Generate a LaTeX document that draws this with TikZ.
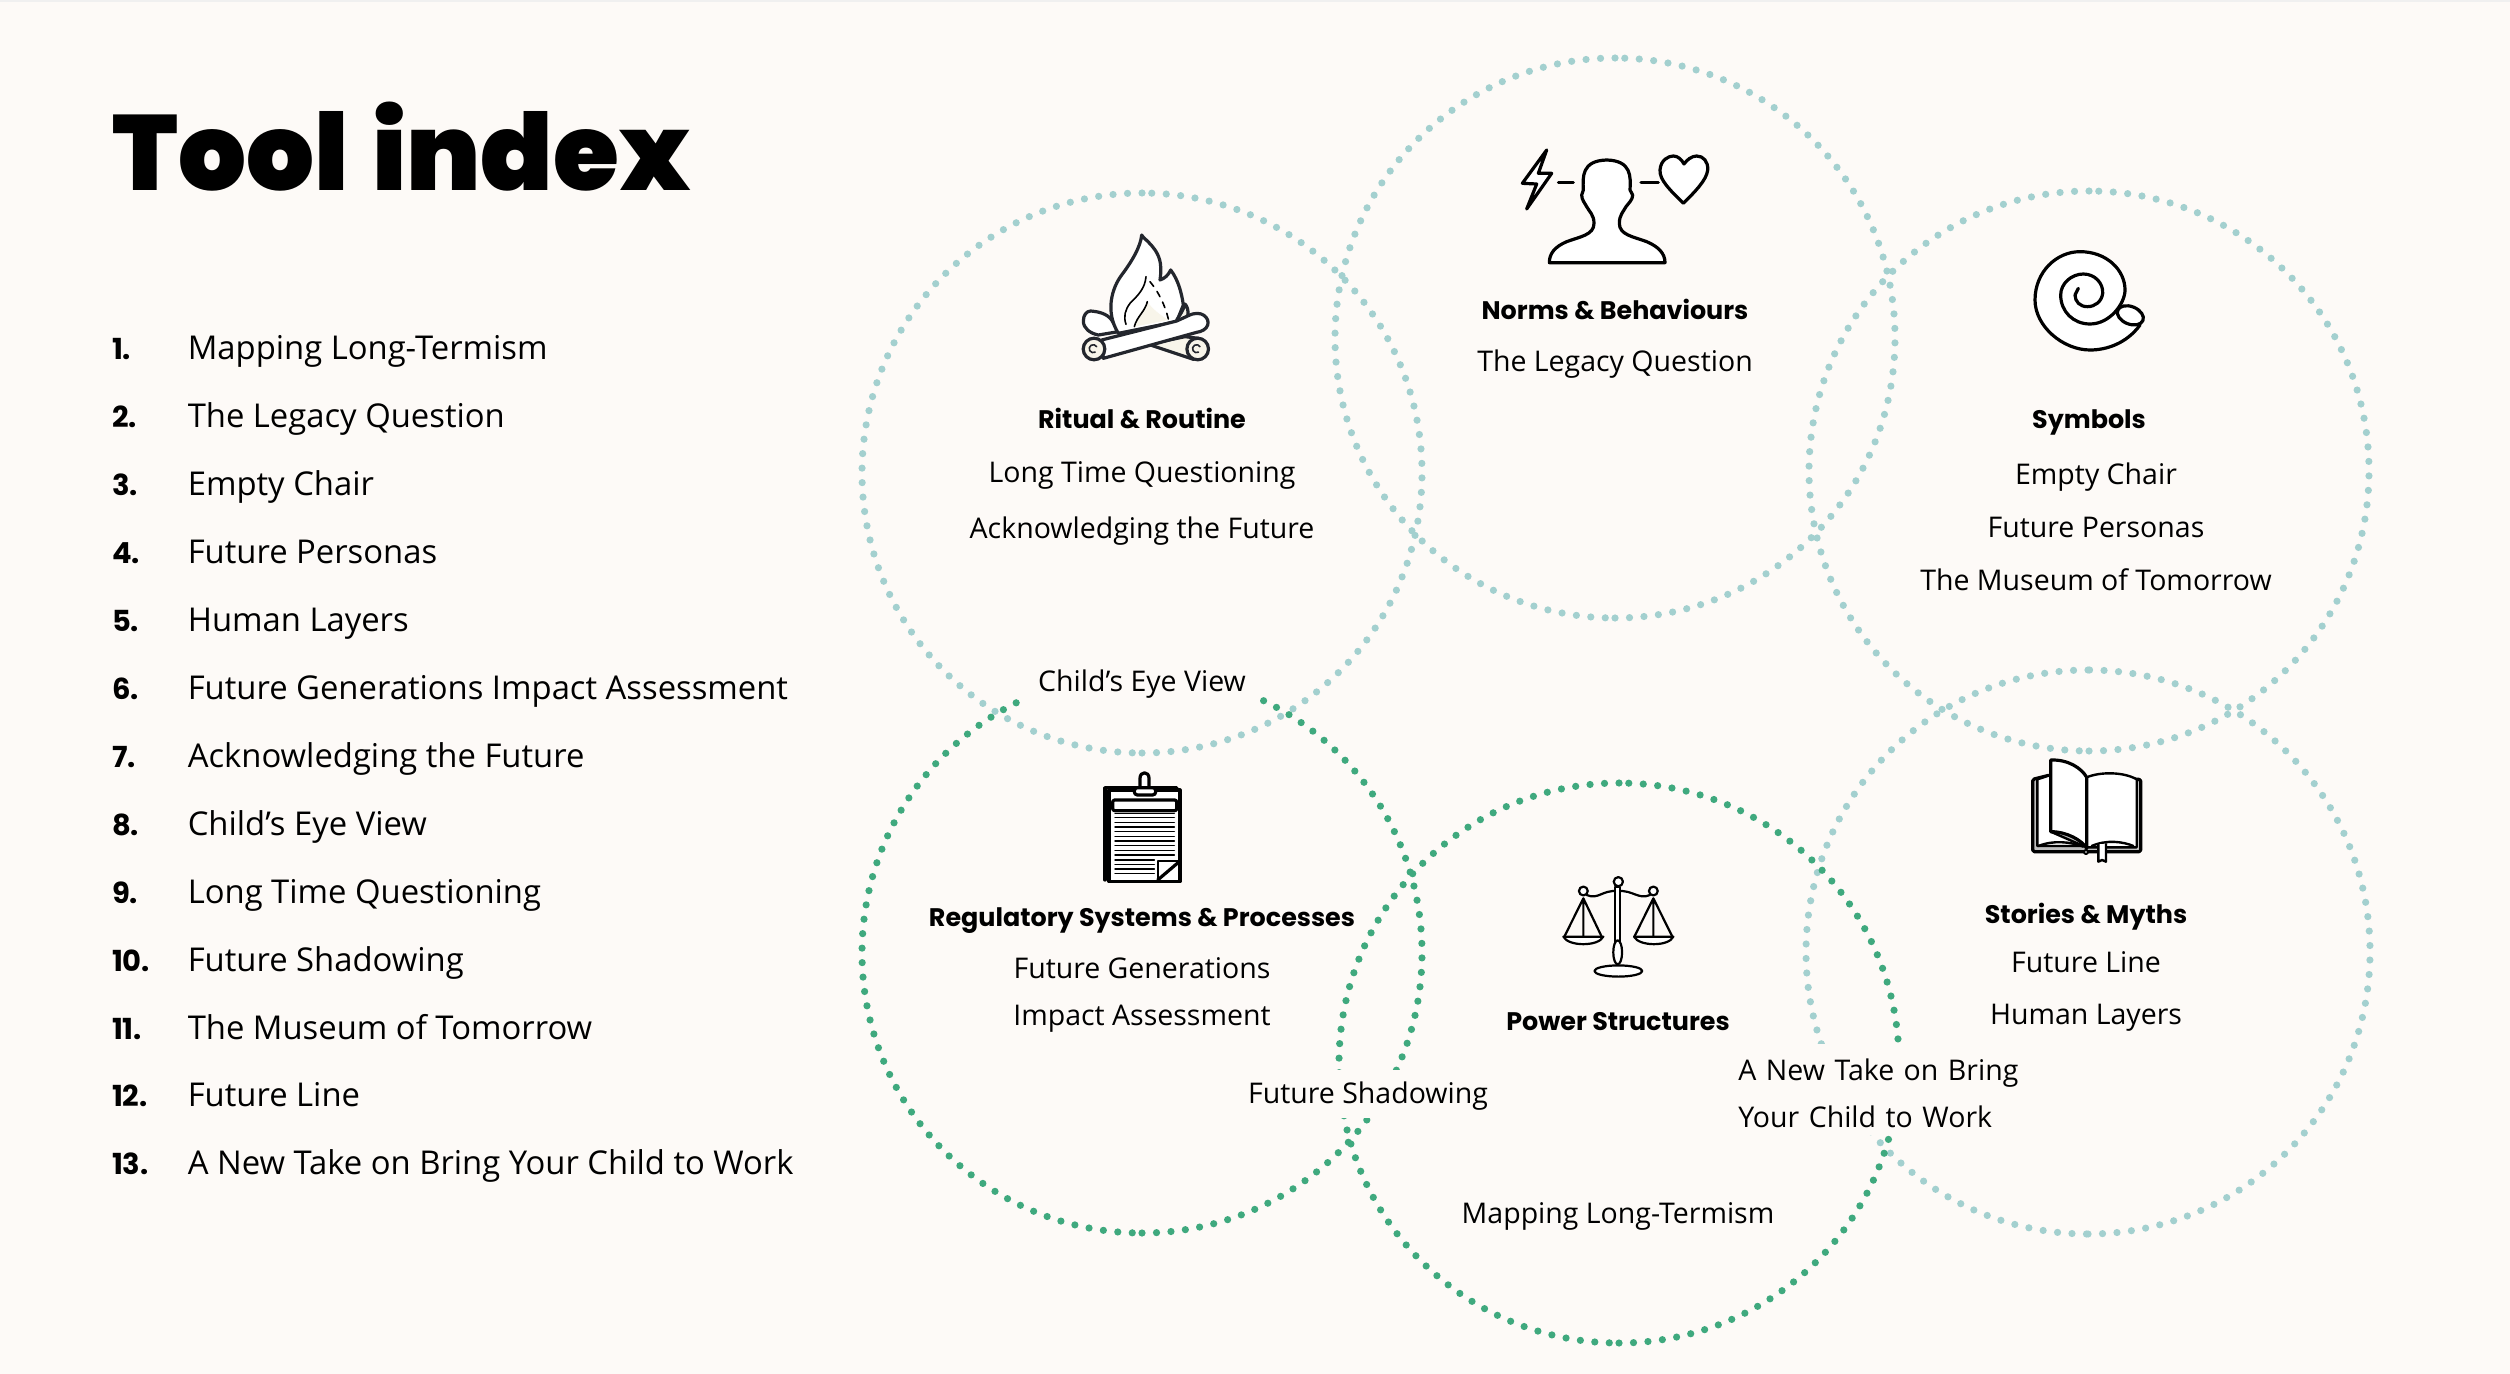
\documentclass[tikz,border=0pt]{standalone}
\usepackage{fontspec}
\setmainfont{Open Sans}
\newfontfamily\titlefont{Poppins}[UprightFont=* Black,Kerning=Off,WordSpace=1.3]
\newfontfamily\headfont{Poppins}[UprightFont=* Bold]
\usetikzlibrary{positioning}
\definecolor{paper}{HTML}{FDFAF7}
\definecolor{softdot}{HTML}{A3D0CF}
\definecolor{deepdot}{HTML}{3FA97E}
\definecolor{firecream}{HTML}{F8F5EA}
\definecolor{fireink}{HTML}{23262D}
\tikzset{
  softring/.style={draw=softdot,line width=3.6pt,line cap=round,dash pattern=on 0pt off 7.25pt,radius=140pt},
  deepring/.style={softring,draw=deepdot},
  textline/.style={inner sep=0pt,text height=13pt,text depth=4pt},
  headlabel/.style={textline,font=\headfont\fontsize{12.7}{14}\selectfont},
  itemlabel/.style={textline,font=\fontsize{14.25}{16}\selectfont},
  masklabel/.style={itemlabel,fill=paper},
  indexnum/.style={textline,font=\headfont\fontsize{14.5}{16}\selectfont,text width=37.5pt,align=left},
  indextool/.style={textline,font=\fontsize{16.4}{18}\selectfont},
  iconline/.style={draw=black,fill=white,line width=1.6pt,line join=round,line cap=round},
  fireline/.style={iconline,draw=fireink},
  thinline/.style={iconline,fill=none,line width=.8pt}
}
\begin{document}
\begin{tikzpicture}[x=.5pt,y=-.5pt,node distance=16.55pt]
\useasboundingbox (0,0) rectangle (2510,1374);
\fill[paper] (0,0) rectangle (2510,1374);
\fill[black!6] (0,0) rectangle (2510,2);

\draw[softring] (1142,193) arc[start angle=90,delta angle=180] (1142,753) arc[start angle=270,delta angle=180];
\draw[softring] (1615,58) arc[start angle=90,delta angle=180] (1615,618) arc[start angle=270,delta angle=180];
\draw[softring] (2089,191) arc[start angle=90,delta angle=180] (2089,751) arc[start angle=270,delta angle=180];
\draw[softring,radius=141pt] (2088,670) arc[start angle=90,delta angle=180] (2088,1234) arc[start angle=270,delta angle=180];
\draw[deepring] (1142,673) arc[start angle=90,delta angle=180] (1142,1233) arc[start angle=270,delta angle=180];
\draw[deepring] (1619,783) arc[start angle=90,delta angle=180] (1619,1343) arc[start angle=270,delta angle=180];

\node (title) [anchor=base west,inner sep=0pt,font=\titlefont\fontsize{53.4}{60}\selectfont] at (112,191) {Tool index};

\node (num1) [indexnum] at (149.5,351) {1.};
\node (tool1) [indextool,right=0pt of num1] {Mapping Long-Termism};
\node (num2) [indexnum,below=of num1] {2.};
\node (tool2) [indextool,right=0pt of num2] {The Legacy Question};
\node (num3) [indexnum,below=of num2] {3.};
\node (tool3) [indextool,right=0pt of num3] {Empty Chair};
\node (num4) [indexnum,below=of num3] {4.};
\node (tool4) [indextool,right=0pt of num4] {Future Personas};
\node (num5) [indexnum,below=of num4] {5.};
\node (tool5) [indextool,right=0pt of num5] {Human Layers};
\node (num6) [indexnum,below=of num5] {6.};
\node (tool6) [indextool,right=0pt of num6] {Future Generations Impact Assessment};
\node (num7) [indexnum,below=of num6] {7.};
\node (tool7) [indextool,right=0pt of num7] {Acknowledging the Future};
\node (num8) [indexnum,below=of num7] {8.};
\node (tool8) [indextool,right=0pt of num8] {Child’s Eye View};
\node (num9) [indexnum,below=of num8] {9.};
\node (tool9) [indextool,right=0pt of num9] {Long Time Questioning};
\node (num10) [indexnum,below=of num9] {10.};
\node (tool10) [indextool,right=0pt of num10] {Future Shadowing};
\node (num11) [indexnum,below=of num10] {11.};
\node (tool11) [indextool,right=0pt of num11] {The Museum of Tomorrow};
\node (num12) [indexnum,below=of num11] {12.};
\node (tool12) [indextool,right=0pt of num12] {Future Line};
\node (num13) [indexnum,below=of num12] {13.};
\node (tool13) [indextool,right=0pt of num13] {A New Take on Bring Your Child to Work};

\node (ritual) [headlabel] at (1142,420) {Ritual \& Routine};
\node (ritual1) [itemlabel,below=9.5pt of ritual] {Long Time Questioning};
\node (ritual2) [itemlabel,below=10.5pt of ritual1] {Acknowledging the Future};
\node (childs) [masklabel,minimum width=118pt,minimum height=25pt] at (1142,682) {Child’s Eye View};

\node (norms) [headlabel] at (1615,311) {Norms \& Behaviours};
\node (norms1) [itemlabel,below=8.5pt of norms] {The Legacy Question};

\node (symbols) [headlabel] at (2089,420) {Symbols};
\node (symbols1) [itemlabel] at (2096,475) {Empty Chair};
\node (symbols2) [itemlabel,below=9.5pt of symbols1] {Future Personas};
\node (symbols3) [itemlabel,below=9pt of symbols2] {The Museum of Tomorrow};

\node (regulatory) [headlabel] at (1142,917) {Regulatory Systems \& Processes};
\node (regulatory1) [itemlabel,below=9pt of regulatory] {Future Generations};
\node (regulatory2) [itemlabel,below=6pt of regulatory1] {Impact Assessment};
\node (shadowing) [masklabel,minimum width=132pt,minimum height=24pt] at (1368,1094) {Future Shadowing};

\node (stories) [headlabel] at (2086,914) {Stories \& Myths};
\node (stories1) [itemlabel,below=7.5pt of stories] {Future Line};
\node (stories2) [itemlabel,below=8.5pt of stories1] {Human Layers};

\node (power) [headlabel] at (1618,1021) {Power Structures};
\node (mapping) [itemlabel] at (1618,1214) {Mapping Long-Termism};
\node (take) [itemlabel,fill=paper,anchor=west,inner xsep=4pt,inner ysep=4pt,text width=142pt,align=left,text height=14.5pt,text depth=23pt,font=\fontsize{14.25}{23.5}\selectfont] at (1730,1089) {A New Take on Bring\\Your Child to Work};

\begin{scope}[shift={(1070,225)},x=.16667pt,y=-.16667pt]
\draw[fireline] (62,258) .. controls (85,260) and (110,265) .. (125,285) -- (145,320) -- (85,330) .. controls (60,325) and (40,310) .. (40,288) .. controls (40,270) and (50,258) .. (62,258) -- cycle;
\draw[fireline,fill=firecream] (235,358) -- (345,335) -- (385,340) -- (370,403) -- cycle;
\draw[fireline,fill=firecream] (383,372) circle[radius=5.4pt];
\draw[fireline] (215,30) .. controls (220,42) and (270,70) .. (272,125) .. controls (273,140) and (272,150) .. (270,165) .. controls (285,160) and (295,150) .. (302,135) .. controls (325,165) and (335,205) .. (340,240) -- (320,290) -- (145,325) .. controls (105,260) and (125,190) .. (155,150) .. controls (185,110) and (212,65) .. (215,30) -- cycle;
\fill[firecream] (232,230) .. controls (225,260) and (205,275) .. (193,305) -- (295,285) .. controls (270,270) and (245,250) .. (232,230) -- cycle;
\draw[thinline] (228,155) .. controls (225,190) and (205,210) .. (180,235) .. controls (165,255) and (160,275) .. (168,298);
\draw[thinline] (232,230) .. controls (225,260) and (200,275) .. (193,305);
\draw[thinline,dashed] (240,170) .. controls (265,200) and (285,240) .. (295,282);
\draw[fireline,fill=firecream] (345,237) .. controls (358,250) and (358,285) .. (338,295) .. controls (330,297) and (322,290) .. (320,285) .. controls (330,270) and (340,255) .. (345,237) -- cycle;
\draw[fireline] (95,345) -- (320,288) -- (355,272) .. controls (395,252) and (420,280) .. (413,300) .. controls (410,312) and (395,320) .. (380,322) -- (100,400) -- cycle;
\draw[fireline,fill=firecream] (72,372) circle[radius=5.4pt];
\draw[thinline,draw=fireink] (80,365) arc[start angle=30,delta angle=270,radius=2pt];
\draw[thinline,draw=fireink] (390,365) arc[start angle=30,delta angle=270,radius=2pt];
\end{scope}

\begin{scope}[shift={(1510,140)},x=.16667pt,y=-.16667pt]
\draw[iconline] (110,30) -- (37,130) -- (80,132) -- (50,207) -- (125,100) -- (85,100) -- cycle;
\draw[iconline] (145,128) -- (190,128) (393,128) -- (445,128);
\draw[iconline] (118,368) .. controls (118,340) and (135,320) .. (170,305) .. controls (210,290) and (252,285) .. (252,250) .. controls (252,225) and (238,215) .. (230,200) .. controls (225,190) and (215,180) .. (215,165) -- (220,150) .. controls (218,110) and (215,62) .. (290,60) .. controls (365,62) and (362,110) .. (360,150) -- (368,165) .. controls (368,180) and (355,190) .. (348,200) .. controls (340,215) and (328,225) .. (328,250) .. controls (328,285) and (370,290) .. (410,305) .. controls (445,320) and (465,340) .. (465,368) -- cycle;
\draw[iconline] (520,190) .. controls (480,150) and (448,120) .. (450,90) .. controls (452,60) and (475,48) .. (490,48) .. controls (505,48) and (515,60) .. (522,72) .. controls (530,60) and (545,48) .. (560,48) .. controls (580,48) and (595,65) .. (593,90) .. controls (590,120) and (555,155) .. (520,190) -- cycle;
\end{scope}

\begin{scope}[shift={(1950,200)},x=.16667pt,y=-.16667pt]
\draw[iconline] (570,375) .. controls (530,430) and (470,450) .. (420,450) .. controls (340,450) and (255,380) .. (255,300) .. controls (255,215) and (320,155) .. (390,155) .. controls (470,155) and (525,210) .. (525,270) .. controls (525,310) and (480,372) .. (420,372) .. controls (370,372) and (332,335) .. (332,285) .. controls (332,250) and (365,222) .. (400,222) .. controls (435,222) and (460,250) .. (458,280) .. controls (455,305) and (435,320) .. (412,320) .. controls (390,320) and (375,305) .. (375,285) -- (385,265);
\draw[iconline] (541,346) ellipse[x radius=6.8pt,y radius=4.4pt,rotate=-22];
\end{scope}

\begin{scope}[shift={(1085,765)},x=.16667pt,y=-.16667pt]
\draw[iconline,fill=none] (60,345) -- (60,68) -- (275,68);
\draw[iconline] (72,75) rectangle (285,350);
\draw[iconline] (165,68) -- (165,40) .. controls (165,18) and (192,18) .. (192,40) -- (192,68);
\draw[iconline,rounded corners=1.5pt] (148,68) rectangle (212,90);
\draw[iconline,rounded corners=1pt] (83,105) rectangle (275,137);
\draw[iconline,line width=.7pt] (90,145) -- (268,145) (90,158) -- (268,158) (90,172) -- (268,172) (90,186) -- (268,186) (90,200) -- (268,200) (90,214) -- (268,214) (90,228) -- (268,228) (90,242) -- (268,242) (90,256) -- (268,256) (90,270) -- (268,270) (90,285) -- (208,285) (90,298) -- (208,298) (90,312) -- (208,312) (90,326) -- (208,326);
\draw[iconline,line width=1pt] (218,345) -- (218,288) -- (285,288);
\draw[iconline] (218,345) -- (285,288);
\end{scope}

\begin{scope}[shift={(1555,865)},x=.16667pt,y=-.16667pt]
\draw[iconline,line width=1.1pt] (85,100) -- (28,215) (85,100) -- (140,215) (85,100) -- (85,215);
\draw[iconline,line width=1.1pt] (295,100) -- (238,215) (295,100) -- (352,215) (295,100) -- (295,215);
\draw[iconline,line width=1.1pt] (25,215) .. controls (40,245) and (130,245) .. (145,215) -- cycle;
\draw[iconline,line width=1.1pt] (237,215) .. controls (252,245) and (342,245) .. (355,215) -- cycle;
\draw[iconline,line width=1.1pt] (190,318) ellipse[x radius=12pt,y radius=2.8pt];
\draw[iconline,line width=1.1pt] (95,90) .. controls (130,105) and (140,75) .. (188,78) .. controls (235,75) and (250,105) .. (285,90);
\draw[iconline,line width=1.1pt] (180,65) rectangle (196,250);
\draw[iconline,line width=1.1pt] (188,262) ellipse[x radius=2.2pt,y radius=6pt];
\draw[iconline,line width=1.1pt] (190,50) circle[radius=2.3pt];
\draw[iconline,line width=1.1pt] (85,78) circle[radius=2.2pt];
\draw[iconline,line width=1.1pt] (295,78) circle[radius=2.2pt];
\end{scope}

\begin{scope}[shift={(1950,720)},x=.16667pt,y=-.16667pt]
\draw[iconline,fill=black!25,rounded corners=.8pt] (248,178) -- (248,395) -- (572,395) -- (572,178) -- (560,178) -- (412,178) -- (300,165) -- cycle;
\draw[iconline,line width=1.2pt] (262,178) -- (302,165) -- (302,335) -- (400,378) -- (262,378) -- cycle;
\draw[iconline,line width=1.2pt] (410,172) .. controls (450,155) and (520,155) .. (560,178) -- (560,382) -- (410,382) -- cycle;
\draw[iconline,fill=none,line width=1.2pt] (425,378) .. controls (470,358) and (520,365) .. (550,378) (265,378) .. controls (310,360) and (360,365) .. (400,380);
\draw[iconline] (302,120) .. controls (355,118) and (395,145) .. (410,172) -- (410,385) .. controls (395,360) and (350,335) .. (302,335) -- cycle;
\draw[iconline,line width=1.2pt] (445,372) -- (445,425) -- (456,420) -- (468,425) -- (468,372);
\draw[iconline,line width=1pt] (408,396) circle[radius=1pt];
\end{scope}
\end{tikzpicture}
\end{document}
